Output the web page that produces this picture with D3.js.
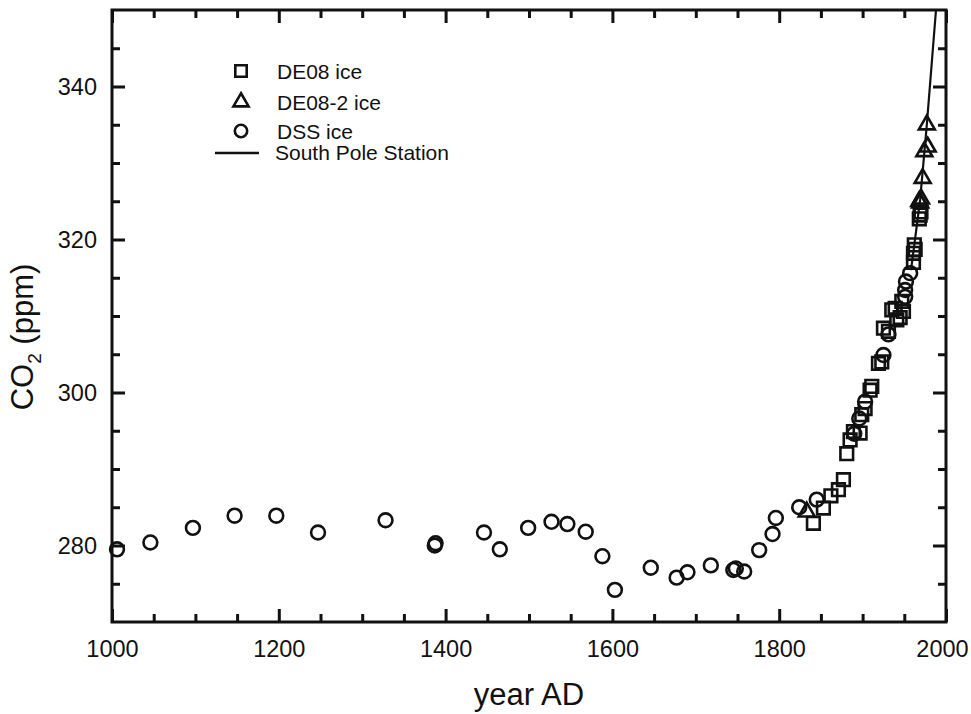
<!DOCTYPE html>
<html>
<head>
<meta charset="utf-8">
<script src="https://cdn.jsdelivr.net/npm/d3@7"></script>
<style>
  body { margin: 0; background: #fff; }
  text { font-family: "Liberation Sans", Arial, Helvetica, sans-serif; fill: #111; }
</style>
</head>
<body>
<div id="chart"></div>
<script>
// ---- data ----
var dssYears = [1006, 1046, 1097, 1147, 1197, 1247, 1328, 1387, 1388, 1446, 1465, 1499, 1527, 1546, 1568,
  1588, 1603, 1646, 1677, 1690, 1718, 1745, 1748, 1758, 1776, 1792, 1796, 1824, 1845, 1890, 1896, 1903,
  1925, 1931, 1951, 1951, 1952, 1957];
var dssCO2 = [279.5, 280.4, 282.3, 283.9, 283.9, 281.7, 283.3, 280.0, 280.3, 281.7, 279.5, 282.3, 283.1, 282.8, 281.8,
  278.6, 274.2, 277.1, 275.8, 276.5, 277.4, 276.8, 277.0, 276.6, 279.4, 281.5, 283.6, 285.0, 286.0, 294.6, 296.6, 298.8,
  304.9, 307.6, 312.5, 313.4, 314.5, 315.6];

var de08Years = [1841, 1853, 1862, 1871, 1877, 1881, 1885, 1889, 1897, 1899, 1903, 1909, 1911, 1919, 1923,
  1925, 1931, 1935, 1939, 1941, 1945, 1947, 1949, 1961, 1961, 1962, 1963, 1968, 1969, 1970];
var de08CO2 = [282.9, 284.9, 286.5, 287.3, 288.6, 292.0, 293.8, 294.9, 294.7, 297.1, 297.9, 300.3, 300.8, 303.8, 304.0,
  308.4, 308.0, 310.8, 311.0, 309.5, 309.8, 311.9, 310.6, 317.0, 318.2, 319.3, 318.7, 322.7, 323.2, 323.6];

var de082Years = [1833, 1968, 1969, 1970, 1972, 1974, 1978, 1977];
var de082CO2 = [284.4, 325.0, 324.8, 325.3, 328.0, 331.5, 332.1, 335.0];

var spoYears = [1958, 1962, 1969, 1977, 1988];
var spoCO2 = [316.0, 319.3, 325.2, 335.0, 350.0];

var xMajor = [1000, 1200, 1400, 1600, 1800, 2000];
var yMajor = [280, 300, 320, 340];

var svgWidth = 971, svgHeight = 714;
var plotLeft = 112, plotRight = 946, plotTop = 10, plotBottom = 622;

var svg = d3.select("#chart").append("svg")
  .attr("width", svgWidth)
  .attr("height", svgHeight);

var x = d3.scaleLinear().domain([1000, 2000]).range([plotLeft, plotRight]);
var y = d3.scaleLinear().domain([270, 350]).range([plotBottom, plotTop]);

var xMinor = d3.range(1000, 2001, 50).filter(d => xMajor.indexOf(d) < 0);
var yMinor = d3.range(270, 351, 5).filter(d => yMajor.indexOf(d) < 0 && d !== 270 && d !== 350);

function styleAxis(g) {
  g.select(".domain").remove();
  g.selectAll("line").attr("stroke", "#111").attr("stroke-width", 3);
  g.selectAll("text").style("font-size", "23.5px").attr("fill", "#111");
}

// bottom axis, inward ticks
var xAxis = svg.append("g").attr("transform", `translate(0,${plotBottom})`)
  .call(d3.axisBottom(x).tickValues(xMajor).tickSizeInner(-13).tickSizeOuter(0).tickPadding(18).tickFormat(d3.format("d")))
  .call(styleAxis);
// keep the last label inside the page, as in the scan
xAxis.selectAll(".tick text").filter(d => d === 2000).attr("dx", -4);

svg.append("g").attr("transform", `translate(0,${plotBottom})`)
  .call(d3.axisBottom(x).tickValues(xMinor).tickSizeInner(-8).tickSizeOuter(0).tickFormat(""))
  .call(styleAxis);
// top axis
svg.append("g").attr("transform", `translate(0,${plotTop})`)
  .call(d3.axisTop(x).tickValues(xMajor).tickSizeInner(-13).tickSizeOuter(0).tickFormat(""))
  .call(styleAxis);
svg.append("g").attr("transform", `translate(0,${plotTop})`)
  .call(d3.axisTop(x).tickValues(xMinor).tickSizeInner(-8).tickSizeOuter(0).tickFormat(""))
  .call(styleAxis);
// left axis
svg.append("g").attr("transform", `translate(${plotLeft},0)`)
  .call(d3.axisLeft(y).tickValues(yMajor).tickSizeInner(-13).tickSizeOuter(0).tickPadding(15))
  .call(styleAxis);
svg.append("g").attr("transform", `translate(${plotLeft},0)`)
  .call(d3.axisLeft(y).tickValues(yMinor).tickSizeInner(-8).tickSizeOuter(0).tickFormat(""))
  .call(styleAxis);
// right axis
svg.append("g").attr("transform", `translate(${plotRight},0)`)
  .call(d3.axisRight(y).tickValues(yMajor).tickSizeInner(-13).tickSizeOuter(0).tickFormat(""))
  .call(styleAxis);
svg.append("g").attr("transform", `translate(${plotRight},0)`)
  .call(d3.axisRight(y).tickValues(yMinor).tickSizeInner(-8).tickSizeOuter(0).tickFormat(""))
  .call(styleAxis);

// frame
svg.append("rect")
  .attr("x", plotLeft).attr("y", plotTop)
  .attr("width", plotRight - plotLeft).attr("height", plotBottom - plotTop)
  .attr("fill", "none").attr("stroke", "#111").attr("stroke-width", 3);

// axis titles
svg.append("text")
  .attr("x", 529)
  .attr("y", 705)
  .attr("text-anchor", "middle")
  .style("font-size", "31px")
  .text("year AD");

var yTitle = svg.append("text")
  .attr("transform", "translate(33,337) rotate(-90)")
  .attr("text-anchor", "middle")
  .style("font-size", "31px");
yTitle.append("tspan").text("CO");
yTitle.append("tspan").attr("dy", 8).style("font-size", "19px").text("2");
yTitle.append("tspan").attr("dy", -8).text(" (ppm)");

// clip for the station record
svg.append("clipPath").attr("id", "plotClip")
  .append("rect").attr("x", plotLeft).attr("y", plotTop)
  .attr("width", plotRight - plotLeft).attr("height", plotBottom - plotTop);

var line = d3.line().x(d => x(d[0])).y(d => y(d[1]));
svg.append("path")
  .datum(d3.zip(spoYears, spoCO2))
  .attr("clip-path", "url(#plotClip)")
  .attr("fill", "none")
  .attr("stroke", "#111")
  .attr("stroke-width", 2.2)
  .attr("d", line);

var sq = d3.symbol().type(d3.symbolSquare).size(160);
var tri = d3.symbol().type(d3.symbolTriangle).size(110);
var circ = d3.symbol().type(d3.symbolCircle).size(150);

function drawPoints(years, vals, sym) {
  svg.append("g").selectAll("path")
    .data(d3.zip(years, vals))
    .enter()
    .append("path")
    .attr("transform", d => `translate(${x(d[0])},${y(d[1])})`)
    .attr("d", sym)
    .attr("fill", "none")
    .attr("stroke", "#111")
    .attr("stroke-width", 2.6);
}

drawPoints(dssYears, dssCO2, circ);
drawPoints(de08Years, de08CO2, sq);
drawPoints(de082Years, de082CO2, tri);

// legend
var legend = svg.append("g");
var legendRows = [
  { label: "DE08 ice", type: d3.symbolSquare, size: 130, cy: 71 },
  { label: "DE08-2 ice", type: d3.symbolTriangle, size: 100, cy: 102 },
  { label: "DSS ice", type: d3.symbolCircle, size: 120, cy: 131 }
];
legendRows.forEach(function(r) {
  legend.append("path")
    .attr("transform", `translate(241,${r.cy})`)
    .attr("d", d3.symbol().type(r.type).size(r.size)())
    .attr("fill", "none").attr("stroke", "#111").attr("stroke-width", 2.6);
  legend.append("text")
    .attr("x", 277).attr("y", r.cy + 7.5)
    .style("font-size", "21px")
    .text(r.label);
});
legend.append("line")
  .attr("x1", 215).attr("x2", 259).attr("y1", 153).attr("y2", 153)
  .attr("stroke", "#111").attr("stroke-width", 2.5);
legend.append("text")
  .attr("x", 275).attr("y", 160)
  .style("font-size", "21px")
  .text("South Pole Station");
</script>
</body>
</html>
